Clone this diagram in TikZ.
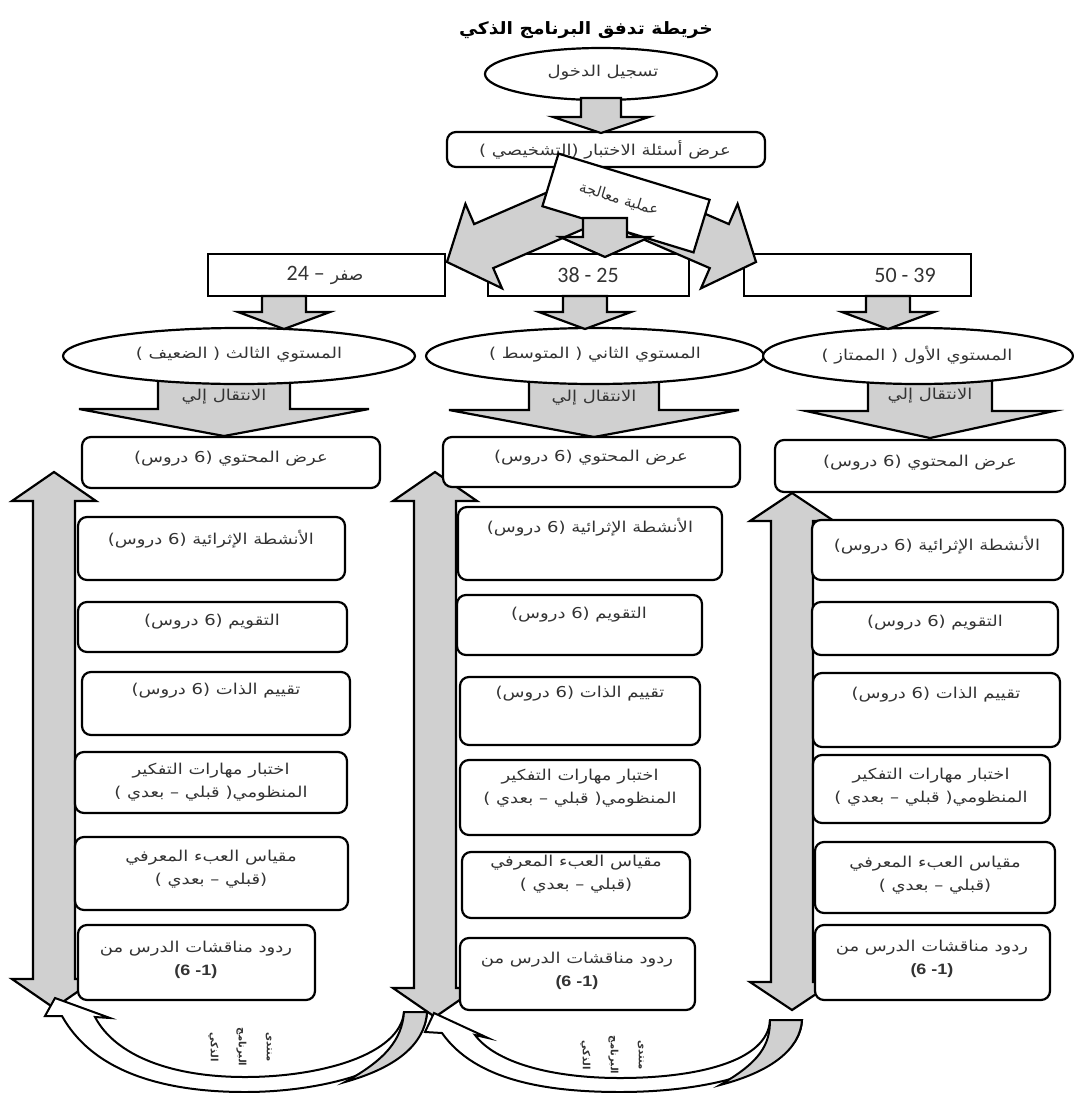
\documentclass[tikz,border=0pt]{standalone}
\usepackage{fontspec}
\setmainfont{Liberation Sans}
\newfontfamily\arabicfont[Script=Arabic]{DejaVu Sans}
\newfontfamily\numfont{Carlito}
\TeXXeTstate=1
\usetikzlibrary{calc,shapes.geometric}
\definecolor{agray}{RGB}{208,208,208}
\newcommand{\AR}[1]{{\arabicfont\beginR #1\endR}}
\newcommand{\mkbox}[6][box]{\node[#1, minimum width={#5-#3}, minimum height={#6-#4}] (#2) at ({(#3+#5)/2},{(#4+#6)/2}) {};}
\tikzset{
 barrow/.style n args={3}{draw=black, line width=2.2pt, fill=agray, line join=miter,
  to path={
   ($(\tikztostart)!#1!90:(\tikztotarget)$)
   -- ($($(\tikztotarget)!#3!(\tikztostart)$)!#1!90:(\tikztotarget)$)
   -- ($($(\tikztotarget)!#3!(\tikztostart)$)!#2!90:(\tikztotarget)$)
   -- (\tikztotarget)
   -- ($($(\tikztotarget)!#3!(\tikztostart)$)!#2!-90:(\tikztotarget)$)
   -- ($($(\tikztotarget)!#3!(\tikztostart)$)!#1!-90:(\tikztotarget)$)
   -- ($(\tikztostart)!#1!-90:(\tikztotarget)$)
   -- cycle}},
 barrowtwo/.style n args={3}{draw=black, line width=2.2pt, fill=agray, line join=miter,
  to path={
   (\tikztostart)
   -- ($($(\tikztostart)!#3!(\tikztotarget)$)!#2!-90:(\tikztotarget)$)
   -- ($($(\tikztostart)!#3!(\tikztotarget)$)!#1!-90:(\tikztotarget)$)
   -- ($($(\tikztotarget)!#3!(\tikztostart)$)!#1!-90:(\tikztotarget)$)
   -- ($($(\tikztotarget)!#3!(\tikztostart)$)!#2!-90:(\tikztotarget)$)
   -- (\tikztotarget)
   -- ($($(\tikztotarget)!#3!(\tikztostart)$)!#2!90:(\tikztotarget)$)
   -- ($($(\tikztotarget)!#3!(\tikztostart)$)!#1!90:(\tikztotarget)$)
   -- ($($(\tikztostart)!#3!(\tikztotarget)$)!#1!90:(\tikztotarget)$)
   -- ($($(\tikztostart)!#3!(\tikztotarget)$)!#2!90:(\tikztotarget)$)
   -- cycle}},
}
\begin{document}
\begin{tikzpicture}[x=1pt,y=-1pt,
  every node/.style={inner sep=0pt, outer sep=0pt, text=black!80},
  txs/.style={font=\fontsize{15}{23}\selectfont, align=center, xscale=1.2},
  box/.style={draw=black, line width=2.2pt, rounded corners=9pt, fill=white},
  sqbox/.style={draw=black, line width=2.2pt, fill=white},
  ell/.style={draw=black, ellipse, line width=2.2pt, fill=white},
  band/.style={draw=black, line width=2pt, fill=white, line join=miter},
  bandgray/.style={draw=black, line width=2pt, fill=agray},
  forum/.style={rotate=-90, align=center, font=\arabicfont\bfseries\fontsize{10}{28}\selectfont}]
\useasboundingbox (0,0) rectangle (1074,1093);
\fill[white] (0,0) rectangle (1074,1093);

% title and top
\node[font=\arabicfont\bfseries\fontsize{17}{20}\selectfont, xscale=1.1, text=black] (title) at (586,30) {\AR{خريطة تدفق البرنامج الذكي}};
\node[ell, minimum width=232, minimum height=52] (login) at (601,74) {};
\node[txs] (logint) at (603,73) {\AR{تسجيل الدخول}};

% range boxes
\mkbox[sqbox]{rangeL}{208}{254}{445}{296}
\mkbox[sqbox]{rangeM}{488}{254}{689}{296}
\mkbox[sqbox]{rangeR}{744}{254}{971}{296}
\node[font=\fontsize{22}{24}\selectfont] (rangeLt) at (325,275) {{\numfont 24 –} \AR{\fontsize{17}{20}\selectfont صفر}};
\node[font=\numfont\fontsize{22}{24}\selectfont] (rangeMt) at (588,275) {38 - 25};
\node[font=\numfont\fontsize{22}{24}\selectfont] (rangeRt) at (905,275) {50 - 39};

% test box
\mkbox{test}{447}{132}{765}{167}
\node[txs] (testt) at (605,150) {\AR{عرض أسئلة الاختبار (التشخيصي )}};
\coordinate (a1s) at (601,98); \coordinate (a1e) at (601,133);
\draw[barrow={20pt}{48pt}{16pt}] (a1s) to (a1e);

% diagonal arrows from processing
\coordinate (pLs) at (590,200); \coordinate (pLe) at (447,262);
\coordinate (pRs) at (613,200); \coordinate (pRe) at (756,262);
\draw[barrow={24pt}{46pt}{40pt}] (pLs) to (pLe);
\draw[barrow={24pt}{46pt}{40pt}] (pRs) to (pRe);

% processing box
\node[sqbox, rotate=-17, minimum width=158, minimum height=55] (proc) at (626,203) {};
\node[rotate=-17, font=\fontsize{15}{18}\selectfont] (proct) at (619,199) {\AR{عملية معالجة}};
\coordinate (pMs) at (605,218); \coordinate (pMe) at (605,257);
\draw[barrow={22pt}{45pt}{20pt}] (pMs) to (pMe);

% transition arrows below the levels
\coordinate (tLs) at (224,372); \coordinate (tLe) at (224,436);
\coordinate (tMs) at (594,372); \coordinate (tMe) at (594,437);
\coordinate (tRs) at (930,372); \coordinate (tRe) at (930,438);
\draw[barrow={66pt}{145pt}{27pt}] (tLs) to (tLe);
\draw[barrow={65pt}{145pt}{27pt}] (tMs) to (tMe);
\draw[barrow={62pt}{124pt}{27pt}] (tRs) to (tRe);
\node[txs] (tLt) at (224,397) {\AR{الانتقال إلي}};
\node[txs] (tMt) at (594,398) {\AR{الانتقال إلي}};
\node[txs] (tRt) at (930,396) {\AR{الانتقال إلي}};

% level ellipses
\node[ell, minimum width=352, minimum height=56] (ellL) at (239,356) {};
\node[ell, minimum width=338, minimum height=56] (ellM) at (595,356) {};
\node[ell, minimum width=310, minimum height=56] (ellR) at (918,356) {};
\node[txs] (ellLt) at (239,355) {\AR{المستوي الثالث ( الضعيف )}};
\node[txs] (ellMt) at (595,355) {\AR{المستوي الثاني ( المتوسط )}};
\node[txs] (ellRt) at (917,355) {\AR{المستوي الأول ( الممتاز )}};

\coordinate (dLs) at (284,296); \coordinate (dLe) at (284,329);
\coordinate (dMs) at (585,296); \coordinate (dMe) at (585,329);
\coordinate (dRs) at (888,296); \coordinate (dRe) at (888,329);
\draw[barrow={22pt}{46pt}{17pt}] (dLs) to (dLe);
\draw[barrow={22pt}{46pt}{17pt}] (dMs) to (dMe);
\draw[barrow={22pt}{46pt}{17pt}] (dRs) to (dRe);

% double arrows
\coordinate (vLs) at (54,472); \coordinate (vLe) at (54,1008);
\coordinate (vMs) at (435,472); \coordinate (vMe) at (435,1017);
\coordinate (vRs) at (792,493); \coordinate (vRe) at (792,1010);
\draw[barrowtwo={21pt}{42pt}{29pt}] (vLs) to (vLe);
\draw[barrowtwo={21pt}{42pt}{29pt}] (vMs) to (vMe);
\draw[barrowtwo={21pt}{42pt}{28pt}] (vRs) to (vRe);

% left column
\mkbox{L1}{82}{437}{380}{488}
\mkbox{L2}{78}{517}{345}{580}
\mkbox{L3}{78}{602}{347}{652}
\mkbox{L4}{82}{672}{350}{735}
\mkbox{L5}{75}{752}{347}{813}
\mkbox{L6}{75}{837}{348}{910}
\mkbox{L7}{78}{925}{315}{1000}
\node[txs] (L1t) at (231,459) {\AR{عرض المحتوي (6 دروس)}};
\node[txs] (L2t) at (211,539) {\AR{الأنشطة الإثرائية (6 دروس)}};
\node[txs] (L3t) at (212,622) {\AR{التقويم (6 دروس)}};
\node[txs] (L4t) at (216,691) {\AR{تقييم الذات (6 دروس)}};
\node[txs] (L5t) at (211,782) {\AR{اختبار مهارات التفكير}\\\AR{المنظومي( قبلي – بعدي )}};
\node[txs] (L6t) at (211,869) {\AR{مقياس العبء المعرفي}\\\AR{(قبلي – بعدي )}};
\node[txs] (L7t) at (196,960) {\AR{ردود مناقشات الدرس من}\\{\bfseries (6 -1)}};

% middle column
\mkbox{M1}{443}{437}{740}{487}
\mkbox{M2}{458}{507}{722}{580}
\mkbox{M3}{457}{595}{702}{655}
\mkbox{M4}{460}{677}{700}{745}
\mkbox{M5}{460}{760}{700}{835}
\mkbox{M6}{462}{852}{690}{918}
\mkbox{M7}{460}{938}{695}{1010}
\node[txs] (M1t) at (591,458) {\AR{عرض المحتوي (6 دروس)}};
\node[txs] (M2t) at (590,527) {\AR{الأنشطة الإثرائية (6 دروس)}};
\node[txs] (M3t) at (579,615) {\AR{التقويم (6 دروس)}};
\node[txs] (M4t) at (580,694) {\AR{تقييم الذات (6 دروس)}};
\node[txs] (M5t) at (580,788) {\AR{اختبار مهارات التفكير}\\\AR{المنظومي( قبلي – بعدي )}};
\node[txs] (M6t) at (576,874) {\AR{مقياس العبء المعرفي}\\\AR{(قبلي – بعدي )}};
\node[txs] (M7t) at (577,971) {\AR{ردود مناقشات الدرس من}\\{\bfseries (6 -1)}};

% right column
\mkbox{R1}{775}{440}{1065}{492}
\mkbox{R2}{812}{520}{1063}{580}
\mkbox{R3}{812}{602}{1058}{655}
\mkbox{R4}{813}{673}{1060}{747}
\mkbox{R5}{813}{755}{1050}{823}
\mkbox{R6}{815}{842}{1055}{913}
\mkbox{R7}{815}{925}{1050}{1000}
\node[txs] (R1t) at (920,463) {\AR{عرض المحتوي (6 دروس)}};
\node[txs] (R2t) at (937,545) {\AR{الأنشطة الإثرائية (6 دروس)}};
\node[txs] (R3t) at (935,623) {\AR{التقويم (6 دروس)}};
\node[txs] (R4t) at (936,695) {\AR{تقييم الذات (6 دروس)}};
\node[txs] (R5t) at (931,787) {\AR{اختبار مهارات التفكير}\\\AR{المنظومي( قبلي – بعدي )}};
\node[txs] (R6t) at (935,875) {\AR{مقياس العبء المعرفي}\\\AR{(قبلي – بعدي )}};
\node[txs] (R7t) at (932,959) {\AR{ردود مناقشات الدرس من}\\{\bfseries (6 -1)}};

% curved return arrows
\draw[band] (62,1016) .. controls (95,1075) and (170,1092) .. (245,1092)
  .. controls (330,1092) and (425,1065) .. (427,1012)
  -- (404,1012)
  .. controls (400,1055) and (320,1077) .. (245,1077)
  .. controls (170,1077) and (115,1055) .. (95,1017)
  -- (110,1018) -- (55,998) -- (45,1016) -- cycle;
\draw[bandgray] (404,1012) -- (427,1012) .. controls (425,1045) and (395,1068) .. (345,1082)
  .. controls (385,1060) and (402,1040) .. (404,1012) -- cycle;
\draw[band] (442,1033) .. controls (475,1080) and (545,1092) .. (620,1092)
  .. controls (705,1092) and (800,1072) .. (802,1020)
  -- (770,1020)
  .. controls (768,1062) and (695,1078) .. (620,1078)
  .. controls (550,1078) and (495,1062) .. (475,1035)
  -- (488,1038) -- (434,1013) -- (425,1032) -- cycle;
\draw[bandgray] (770,1020) -- (802,1020) .. controls (800,1050) and (770,1072) .. (720,1085)
  .. controls (760,1062) and (770,1045) .. (770,1020) -- cycle;
\node[forum] (forumL) at (240,1047) {\AR{منتدى}\\\AR{البرنامج}\\\AR{الذكي}};
\node[forum] (forumM) at (612,1055) {\AR{منتدى}\\\AR{البرنامج}\\\AR{الذكي}};
\end{tikzpicture}
\end{document}
